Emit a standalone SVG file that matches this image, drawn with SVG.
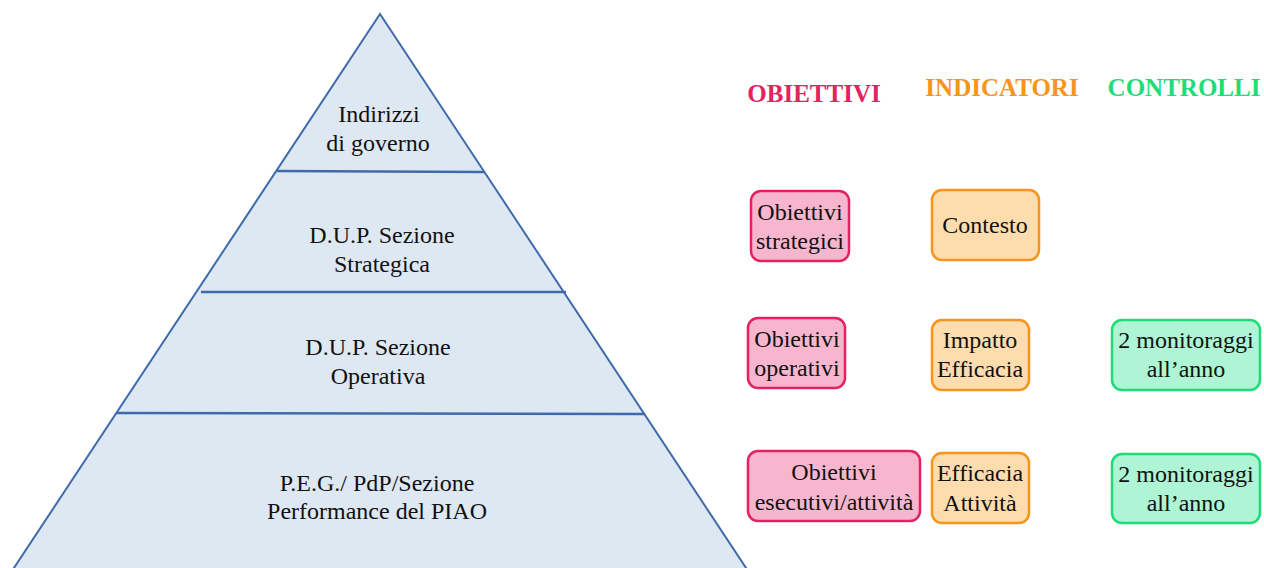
<svg xmlns="http://www.w3.org/2000/svg" width="1264" height="568" viewBox="0 0 1264 568">
<style>
  text{font-family:"Liberation Serif","Times New Roman",serif;fill:#111;text-anchor:middle}
  .t{font-size:24px}
  .h{font-size:25px;font-weight:bold}
  .tri{fill:#DEE8F3;stroke:#3F6BAA;stroke-width:2}
  .sep{stroke:#3F6BAA;stroke-width:2.5;fill:none}
  .pk{fill:#F7B6CE;stroke:#E5215F;stroke-width:2.5}
  .or{fill:#FDDDAE;stroke:#F7941D;stroke-width:2.5}
  .gr{fill:#ADF5D4;stroke:#1EDC78;stroke-width:2.5}
</style>
<rect width="1264" height="568" fill="#ffffff"/>
<g id="pyramid">
  <polygon class="tri" points="380,14 6,580 754,580"/>
  <line class="sep" x1="277" y1="171" x2="485" y2="172"/>
  <line class="sep" x1="201" y1="292" x2="566" y2="292"/>
  <line class="sep" x1="116" y1="413" x2="645" y2="414"/>
</g>
<g id="level1">
  <text class="t" x="379" y="122">Indirizzi</text>
  <text class="t" x="378" y="151">di governo</text>
</g>
<g id="level2">
  <text class="t" x="382" y="243">D.U.P. Sezione</text>
  <text class="t" x="382" y="272">Strategica</text>
</g>
<g id="level3">
  <text class="t" x="378" y="355">D.U.P. Sezione</text>
  <text class="t" x="378" y="384">Operativa</text>
</g>
<g id="level4">
  <text class="t" x="377" y="491">P.E.G./ PdP/Sezione</text>
  <text class="t" x="377" y="519">Performance del PIAO</text>
</g>
<g id="headers">
  <text class="h" x="814" y="102" style="fill:#E5215F">OBIETTIVI</text>
  <text class="h" x="1002" y="96" style="fill:#F7941D">INDICATORI</text>
  <text class="h" x="1184" y="96" style="fill:#1EDC78">CONTROLLI</text>
</g>
<g id="obiettivi-strategici">
  <rect class="pk" x="751" y="191" width="98" height="70" rx="10"/>
  <text class="t" x="800" y="220">Obiettivi</text>
  <text class="t" x="800" y="249">strategici</text>
</g>
<g id="contesto">
  <rect class="or" x="932" y="190" width="107" height="70" rx="10"/>
  <text class="t" x="985" y="233">Contesto</text>
</g>
<g id="obiettivi-operativi">
  <rect class="pk" x="748" y="318" width="97" height="70" rx="10"/>
  <text class="t" x="797" y="347">Obiettivi</text>
  <text class="t" x="797" y="376">operativi</text>
</g>
<g id="impatto-efficacia">
  <rect class="or" x="932" y="320" width="97" height="70" rx="10"/>
  <text class="t" x="980" y="348">Impatto</text>
  <text class="t" x="980" y="377">Efficacia</text>
</g>
<g id="monitoraggi-1">
  <rect class="gr" x="1112" y="320" width="148" height="70" rx="10"/>
  <text class="t" x="1186" y="348">2 monitoraggi</text>
  <text class="t" x="1186" y="377">all’anno</text>
</g>
<g id="obiettivi-esecutivi">
  <rect class="pk" x="748" y="451" width="172" height="70" rx="10"/>
  <text class="t" x="834" y="480">Obiettivi</text>
  <text class="t" x="834" y="510">esecutivi/attività</text>
</g>
<g id="efficacia-attivita">
  <rect class="or" x="932" y="453" width="97" height="70" rx="10"/>
  <text class="t" x="980" y="481">Efficacia</text>
  <text class="t" x="980" y="511">Attività</text>
</g>
<g id="monitoraggi-2">
  <rect class="gr" x="1112" y="454" width="148" height="69" rx="10"/>
  <text class="t" x="1186" y="482">2 monitoraggi</text>
  <text class="t" x="1186" y="511">all’anno</text>
</g>
<g id="connectors"></g>
</svg>
